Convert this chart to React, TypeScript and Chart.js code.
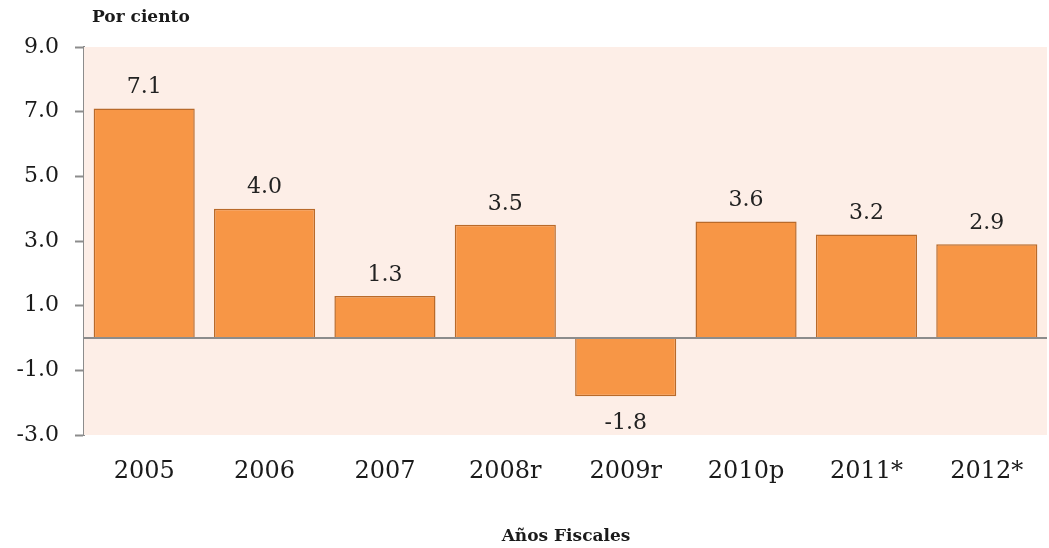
import React, { useEffect, useRef } from "react";
import { Chart, registerables } from "chart.js";

Chart.register(...registerables);

const categories = ["2005", "2006", "2007", "2008r", "2009r", "2010p", "2011*", "2012*"];
const values = [7.1, 4.0, 1.3, 3.5, -1.8, 3.6, 3.2, 2.9];
const yTicks = [-3, -1, 1, 3, 5, 7, 9];
const yTitle = "Por ciento";
const xTitle = "Años Fiscales";

const FONT = "'DejaVu Serif', serif";

export default function App() {
  const ref = useRef<HTMLCanvasElement | null>(null);

  useEffect(() => {
    document.body.style.margin = "0";
    const canvas = ref.current;
    if (!canvas) return;

    const bgPlugin = {
      id: "bgPlugin",
      beforeDatasetsDraw(chart: any) {
        const { ctx, chartArea } = chart;
        ctx.save();
        ctx.fillStyle = "#FDEEE7";
        ctx.fillRect(chartArea.left, chartArea.top, chartArea.right - chartArea.left, chartArea.bottom - chartArea.top);
        ctx.restore();
      },
      afterDatasetsDraw(chart: any) {
        const { ctx, chartArea, scales } = chart;
        const y0 = scales.y.getPixelForValue(0);
        ctx.save();
        ctx.strokeStyle = "#8C8C8C";
        ctx.lineWidth = 2;
        ctx.beginPath();
        ctx.moveTo(chartArea.left, y0);
        ctx.lineTo(chartArea.right, y0);
        ctx.stroke();

        const meta = chart.getDatasetMeta(0);
        ctx.fillStyle = "#222222";
        ctx.font = `22px ${FONT}`;
        ctx.textAlign = "center";
        meta.data.forEach((bar: any, i: number) => {
          const v = values[i];
          const txt = v.toFixed(1);
          if (v >= 0) {
            ctx.textBaseline = "bottom";
            ctx.fillText(txt, bar.x, bar.y - 10);
          } else {
            ctx.textBaseline = "top";
            ctx.fillText(txt, bar.x, bar.y + 16);
          }
        });

        ctx.fillStyle = "#1a1a1a";
        ctx.font = `bold 17px ${FONT}`;
        ctx.textAlign = "left";
        ctx.textBaseline = "middle";
        ctx.fillText(yTitle, 92, 18);
        ctx.textAlign = "center";
        ctx.fillText(xTitle, 566, 537);
        ctx.restore();
      },
    };

    const chart = new Chart(canvas, {
      type: "bar",
      data: {
        labels: categories,
        datasets: [
          {
            data: values,
            backgroundColor: "#F79646",
            borderColor: "#B96A2A",
            borderWidth: 1.5,
            barPercentage: 0.84,
            categoryPercentage: 1,
          },
        ],
      },
      options: {
        responsive: false,
        animation: false,
        layout: { padding: { top: 47, right: 2, left: 0, bottom: 0 } },
        plugins: {
          legend: { display: false },
          tooltip: { enabled: false },
          title: { display: false },
        },
        scales: {
          x: {
            grid: { display: false },
            border: { display: false },
            ticks: {
              color: "#1a1a1a",
              font: { family: FONT, size: 24 },
              padding: 14,
              maxRotation: 0,
            },
            afterFit(scale: any) {
              scale.height = 113;
            },
          },
          y: {
            min: -3,
            max: 9,
            grid: {
              drawOnChartArea: false,
              drawTicks: true,
              tickLength: 9,
              tickColor: "#8C8C8C",
              tickWidth: 2,
            },
            border: { display: true, color: "#8C8C8C", width: 2 },
            afterBuildTicks(scale: any) {
              scale.ticks = yTicks.map((v) => ({ value: v }));
            },
            ticks: {
              color: "#1a1a1a",
              font: { family: FONT, size: 22 },
              padding: 16,
              callback: (v: any) => Number(v).toFixed(1),
            },
            afterFit(scale: any) {
              scale.width = 84;
            },
          },
        },
      },
      plugins: [bgPlugin],
    });

    return () => chart.destroy();
  }, []);

  return (
    <div style={{ width: 1049, height: 548 }}>
      <canvas ref={ref} width={1049} height={548} />
    </div>
  );
}
